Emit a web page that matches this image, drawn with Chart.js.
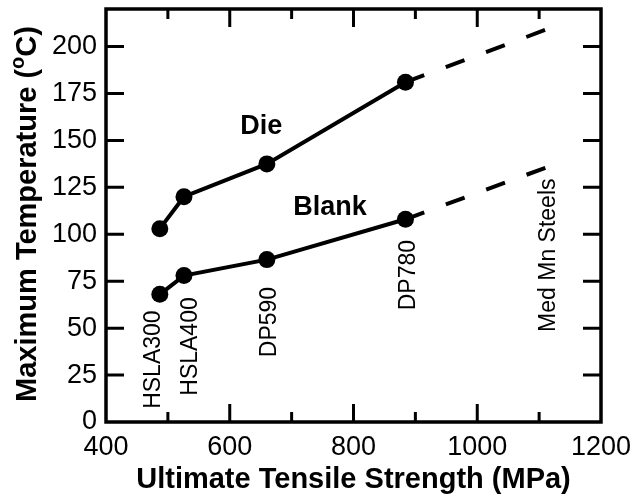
<!DOCTYPE html>
<html>
<head>
<meta charset="utf-8">
<script src="https://cdn.jsdelivr.net/npm/chart.js@4.4.1/dist/chart.umd.min.js"></script>
<style>
  html, body { margin: 0; padding: 0; background: #fff; }
  #wrap { width: 632px; height: 501px; }
</style>
</head>
<body>
<div id="wrap"><canvas id="chart" width="632" height="501"></canvas></div>
<script>
// measured points (UTS in MPa, max temperature in C)
const steelUts = [487, 526, 660, 884];
const dieTemp = [103, 120, 137.5, 181];
const blankTemp = [68, 78, 86.5, 108];

// dashed extrapolation towards med Mn steels
const extUts = [884, 1111];
const dieExtTemp = [181, 209];
const blankExtTemp = [108, 135.5];

// steel grade annotations (text, UTS, temperature where text starts)
const gradeNames = ['HSLA300', 'HSLA400', 'DP590', 'DP780', 'Med Mn Steels'];
const gradeUts = [474, 534, 662, 886, 1113];
const gradeStart = [7, 14, 34.5, 59.5, 48];

const seriesNames = ['Die', 'Blank'];
const seriesLabelUts = [651, 762];
const seriesLabelTemp = [153.4, 110.2];

const xTicks = [400, 600, 800, 1000, 1200];
const xMinorTicks = [500, 700, 900, 1100];
const yTicks = [0, 25, 50, 75, 100, 125, 150, 175, 200];

const FONT = '"Liberation Sans", Arial, Helvetica, sans-serif';

const toPoints = (xs, ys) => xs.map((x, i) => ({ x: x, y: ys[i] }));

const framePlugin = {
    id: 'frame',
    afterDatasetsDraw(chart) {
        const ctx = chart.ctx;
        const a = chart.chartArea;
        const xs = chart.scales.x;
        const ys = chart.scales.y;

        ctx.save();
        ctx.strokeStyle = '#000';
        ctx.lineWidth = 3.5;
        ctx.lineCap = 'butt';
        ctx.strokeRect(a.left, a.top, a.right - a.left, a.bottom - a.top);

        ctx.beginPath();
        ctx.lineWidth = 3;
        // x major / minor ticks, bottom and top, pointing inwards
        xTicks.slice(1, -1).forEach(v => {
            const px = xs.getPixelForValue(v);
            ctx.moveTo(px, a.bottom); ctx.lineTo(px, a.bottom - 18);
            ctx.moveTo(px, a.top); ctx.lineTo(px, a.top + 18);
        });
        xMinorTicks.forEach(v => {
            const px = xs.getPixelForValue(v);
            ctx.moveTo(px, a.bottom); ctx.lineTo(px, a.bottom - 10);
            ctx.moveTo(px, a.top); ctx.lineTo(px, a.top + 10);
        });
        // y ticks, left and right
        yTicks.slice(1).forEach(v => {
            const py = ys.getPixelForValue(v);
            ctx.moveTo(a.left, py); ctx.lineTo(a.left + 18, py);
            ctx.moveTo(a.right, py); ctx.lineTo(a.right - 18, py);
        });
        ctx.stroke();

        // grade labels, rotated
        ctx.fillStyle = '#000';
        ctx.font = '23px ' + FONT;
        ctx.textAlign = 'left';
        ctx.textBaseline = 'alphabetic';
        gradeNames.forEach((name, i) => {
            const px = xs.getPixelForValue(gradeUts[i]) + 23 * 0.716 / 2;
            const py = ys.getPixelForValue(gradeStart[i]);
            ctx.save();
            ctx.translate(px, py);
            ctx.rotate(-Math.PI / 2);
            ctx.fillText(name, 0, 0);
            ctx.restore();
        });

        // series labels
        ctx.font = 'bold 27px ' + FONT;
        ctx.textAlign = 'center';
        seriesNames.forEach((name, i) => {
            ctx.fillText(name, xs.getPixelForValue(seriesLabelUts[i]), ys.getPixelForValue(seriesLabelTemp[i]));
        });

        // y axis title with superscript o
        const cx = 28;
        const cy = 214;
        const big = 'bold 29px ' + FONT;
        const small = 'bold 20px ' + FONT;
        const parts = [['Maximum Temperature (', big, 0], ['o', small, -10], ['C)', big, 0]];
        let total = 0;
        parts.forEach(p => { ctx.font = p[1]; total += ctx.measureText(p[0]).width; });
        ctx.save();
        ctx.translate(cx, cy);
        ctx.rotate(-Math.PI / 2);
        ctx.textAlign = 'left';
        ctx.textBaseline = 'middle';
        let off = -total / 2;
        parts.forEach(p => {
            ctx.font = p[1];
            ctx.fillText(p[0], off, p[2]);
            off += ctx.measureText(p[0]).width;
        });
        ctx.restore();
        ctx.restore();
    }
};

const tickFont = { family: FONT, size: 27 };

new Chart(document.getElementById('chart'), {
    type: 'scatter',
    data: {
        datasets: [
            {
                label: 'Die (extrapolated)',
                data: toPoints(extUts, dieExtTemp),
                showLine: true,
                borderColor: '#000',
                borderWidth: 4,
                borderDash: [20, 23],
                pointRadius: 0
            },
            {
                label: 'Blank (extrapolated)',
                data: toPoints(extUts, blankExtTemp),
                showLine: true,
                borderColor: '#000',
                borderWidth: 4,
                borderDash: [20, 23],
                pointRadius: 0
            },
            {
                label: 'Die',
                data: toPoints(steelUts, dieTemp),
                showLine: true,
                borderColor: '#000',
                backgroundColor: '#000',
                borderWidth: 4,
                pointRadius: 8.5,
                pointBorderWidth: 0
            },
            {
                label: 'Blank',
                data: toPoints(steelUts, blankTemp),
                showLine: true,
                borderColor: '#000',
                backgroundColor: '#000',
                borderWidth: 4,
                pointRadius: 8.5,
                pointBorderWidth: 0
            }
        ]
    },
    options: {
        responsive: false,
        animation: false,
        layout: { padding: { top: 9, right: 31, left: 0, bottom: 0 } },
        plugins: {
            legend: { display: false },
            tooltip: { enabled: false }
        },
        scales: {
            x: {
                type: 'linear',
                min: 400,
                max: 1200,
                afterBuildTicks: (s) => { s.ticks = xTicks.map(v => ({ value: v })); },
                afterFit: (s) => {
                    s.height = 79;
                    s.paddingLeft = 0;
                    s.paddingRight = 0;
                },
                grid: { display: false, drawTicks: false },
                border: { display: false },
                ticks: {
                    color: '#000',
                    font: tickFont,
                    padding: 9,
                    maxRotation: 0,
                    autoSkip: false,
                    callback: (v) => String(v)
                },
                title: {
                    display: true,
                    text: 'Ultimate Tensile Strength (MPa)',
                    color: '#000',
                    font: { family: FONT, size: 29, weight: 'bold' },
                    padding: { top: 0, bottom: 4 }
                }
            },
            y: {
                type: 'linear',
                min: 0,
                max: 220,
                afterBuildTicks: (s) => { s.ticks = yTicks.map(v => ({ value: v })); },
                afterFit: (s) => {
                    s.width = 106;
                    s.paddingTop = 0;
                    s.paddingBottom = 0;
                },
                grid: { display: false, drawTicks: false },
                border: { display: false },
                ticks: { color: '#000', font: tickFont, padding: 9, autoSkip: false, callback: (v) => String(v) }
            }
        }
    },
    plugins: [framePlugin]
});
</script>
</body>
</html>
